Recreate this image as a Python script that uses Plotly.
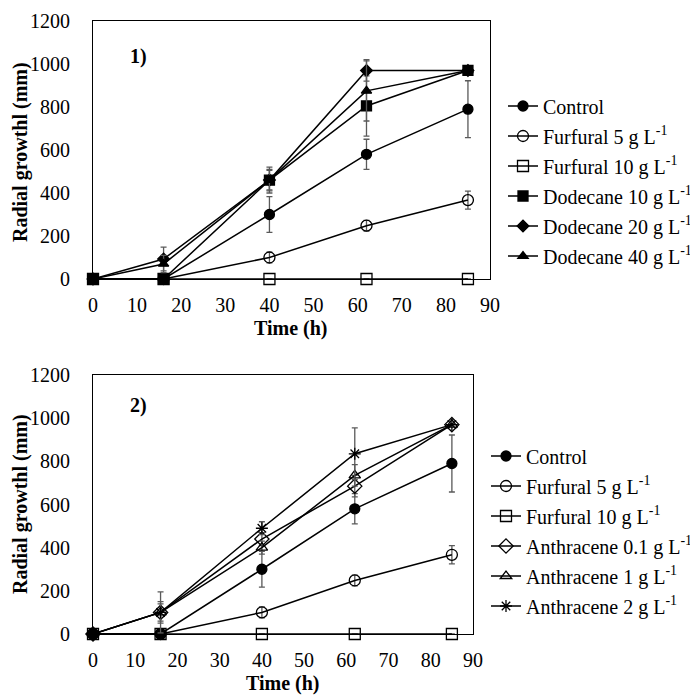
import plotly.graph_objects as go

time_h = [0, 16, 40, 62, 85]

# Panel 1 series
control = [0, 0, 300, 580, 790]
control_err = [0, 0, 83, 70, 132]
furf5 = [0, 0, 100, 248, 367]
furf5_err = [0, 0, 25, 25, 42]
furf10 = [0, 0, 0, 0, 0]
furf10_err = [0, 0, 0, 0, 0]
dod10 = [0, 0, 460, 805, 970]
dod10_err = [0, 0, 60, 140, 0]
dod20 = [0, 93, 460, 970, 970]
dod20_err = [0, 55, 50, 50, 0]
dod40 = [0, 70, 460, 875, 970]
dod40_err = [0, 40, 45, 140, 0]

# Panel 2 series
ant01 = [0, 100, 440, 685, 970]
ant01_err = [0, 40, 30, 50, 0]
ant1 = [0, 100, 400, 735, 970]
ant1_err = [0, 95, 30, 50, 0]
ant2 = [0, 100, 490, 835, 970]
ant2_err = [0, 50, 30, 120, 0]

y_ticks = [0, 200, 400, 600, 800, 1000, 1200]
x_ticks = [0, 10, 20, 30, 40, 50, 60, 70, 80, 90]

FONT = "Liberation Serif, Times New Roman, serif"
ERRC = "#5a5a5a"

fig = go.Figure()

def add(name, y, err, symbol, size, xa, ya, legend, fillc="black", group=None):
    fig.add_trace(go.Scatter(
        x=time_h, y=y, name=name, mode="lines+markers",
        xaxis=xa, yaxis=ya, legend=legend, legendgroup=group or name,
        line=dict(color="black", width=1.5),
        marker=dict(symbol=symbol, size=size, color=fillc,
                    line=dict(color="black", width=1.3)),
        error_y=dict(type="data", array=err, visible=True, color=ERRC,
                     thickness=1.3, width=3),
        cliponaxis=False,
    ))

sup = " g L<sup>-1</sup>"
# Panel 1
add("Control", control, control_err, "circle", 10, "x", "y", "legend")
add("Furfural 5" + sup, furf5, furf5_err, "circle-open", 11, "x", "y", "legend")
add("Furfural 10" + sup, furf10, furf10_err, "square-open", 11, "x", "y", "legend")
add("Dodecane 10" + sup, dod10, dod10_err, "square", 10, "x", "y", "legend")
add("Dodecane 20" + sup, dod20, dod20_err, "diamond", 9, "x", "y", "legend")
add("Dodecane 40" + sup, dod40, dod40_err, "triangle-up", 9, "x", "y", "legend")
# Panel 2
add("Control", control, control_err, "circle", 10, "x2", "y2", "legend2", group="c2")
add("Furfural 5" + sup, furf5, furf5_err, "circle-open", 11, "x2", "y2", "legend2", group="f52")
add("Furfural 10" + sup, furf10, furf10_err, "square-open", 11, "x2", "y2", "legend2", group="f102")
add("Anthracene 0.1" + sup, ant01, ant01_err, "diamond-open", 11, "x2", "y2", "legend2")
add("Anthracene 1" + sup, ant1, ant1_err, "triangle-up-open", 10, "x2", "y2", "legend2")
add("Anthracene 2" + sup, ant2, ant2_err, "asterisk-open", 10, "x2", "y2", "legend2")

# page body has an 8px margin, so the figure is 8px smaller and shifted
OFF = 8
W, H = 698 - OFF, 695 - OFF
def px(x):
    return (x - OFF) / W
def py(y):
    return 1 - (y - OFF) / H

axis_common = dict(
    showline=True, mirror=True, linecolor="black", linewidth=1,
    showgrid=False, zeroline=False, ticks="", automargin=False,
    tickfont=dict(family=FONT, size=20, color="black"),
)

fig.update_layout(
    width=W, height=H,
    margin=dict(l=0, r=0, t=0, b=0, autoexpand=False),
    paper_bgcolor="white", plot_bgcolor="white",
    font=dict(family=FONT, size=20, color="black"),
    xaxis=dict(domain=[px(93), px(490)], range=[0, 90], tickvals=x_ticks,
               anchor="y", ticklabelstandoff=8, **axis_common),
    yaxis=dict(domain=[py(279), py(21)], range=[0, 1200], tickvals=y_ticks,
               anchor="x", ticklabelstandoff=18, **axis_common),
    xaxis2=dict(domain=[px(93), px(473)], range=[0, 90], tickvals=x_ticks,
                anchor="y2", ticklabelstandoff=8, **axis_common),
    yaxis2=dict(domain=[py(634), py(375)], range=[0, 1200], tickvals=y_ticks,
                anchor="x2", ticklabelstandoff=18, **axis_common),
    legend=dict(x=px(503), y=py(86.5), xanchor="left", yanchor="top",
                font=dict(family=FONT, size=20, color="black"),
                bgcolor="rgba(0,0,0,0)", itemwidth=30, tracegroupgap=1),
    legend2=dict(x=px(486), y=py(436.5), xanchor="left", yanchor="top",
                 font=dict(family=FONT, size=20, color="black"),
                 bgcolor="rgba(0,0,0,0)", itemwidth=30, tracegroupgap=1),
    showlegend=True,
)

ann = [
    dict(text="<b>1)</b>", x=px(138), y=py(57)),
    dict(text="<b>2)</b>", x=px(138), y=py(405)),
    dict(text="<b>Time (h)</b>", x=px(291), y=py(328)),
    dict(text="<b>Time (h)</b>", x=px(283), y=py(683)),
    dict(text="<b>Radial growthl (mm)</b>", x=px(20), y=py(152), textangle=-90),
    dict(text="<b>Radial growthl (mm)</b>", x=px(20), y=py(504), textangle=-90),
]
for a in ann:
    fig.add_annotation(xref="paper", yref="paper", showarrow=False,
                       xanchor="center", yanchor="middle",
                       font=dict(family=FONT, size=20, color="black"), **a)

fig.write_html("out.html")
